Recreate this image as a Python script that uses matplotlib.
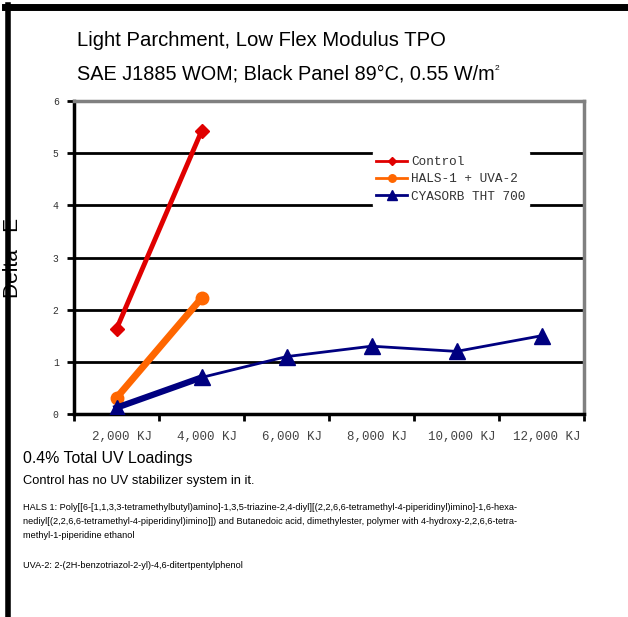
import matplotlib.pyplot as plt
from matplotlib.lines import Line2D

# data
categories = ["2,000 KJ", "4,000 KJ", "6,000 KJ", "8,000 KJ", "10,000 KJ", "12,000 KJ"]
control = [1.63, 5.42]
hals_uva = [0.31, 2.22]
cyasorb = [0.12, 0.70, 1.10, 1.30, 1.20, 1.50]

sans = ['Liberation Sans', 'DejaVu Sans']
mono = ['Liberation Mono', 'DejaVu Sans Mono']

fig = plt.figure(figsize=(6.28, 6.17), dpi=100)
W, H = 628, 617

# frame lines (top and left)
fig.add_artist(Line2D([5 / W, 1], [1 - 7 / H, 1 - 7 / H], color='black', lw=5, transform=fig.transFigure))
fig.add_artist(Line2D([8 / W, 8 / W], [0, 1 - 5 / H], color='black', lw=4, transform=fig.transFigure))

ax = fig.add_axes([74 / W, 1 - 414 / H, 510 / W, 313 / H])

x = list(range(len(categories)))
ax.plot(x[:2], control, color='#e00000', lw=3.5, marker='D', ms=7.5, label='Control', zorder=4)
ax.plot(x[:2], hals_uva, color='#ff6600', lw=5, marker='o', ms=9, label='HALS-1 + UVA-2', zorder=3)
ax.plot(x, cyasorb, color='#000080', lw=2, marker='^', ms=11, label='CYASORB THT 700', zorder=5)
ax.plot(x[:2], cyasorb[:2], color='#000080', lw=4.5, zorder=5)

ax.set_xlim(-0.5, 5.5)
ax.set_ylim(0, 6)
ax.set_yticks(range(7))
ax.set_yticklabels([str(v) for v in range(7)], family=mono, fontsize=7, color='#333333')
ax.set_xticks([i - 0.5 for i in range(7)])
ax.set_xticklabels([])
ax.set_xticks([i + 0.06 for i in x], minor=True)
ax.set_xticklabels(categories, minor=True, family=mono, fontsize=9, color='#444444')
ax.tick_params(axis='x', which='minor', length=0, pad=12)
ax.tick_params(axis='x', which='major', length=5, width=2, direction='out')
ax.tick_params(axis='y', length=5, width=2, direction='out', pad=6)

for y in range(1, 6):
    ax.axhline(y, color='black', lw=2, zorder=1)

ax.spines['left'].set_linewidth(2.5)
ax.spines['bottom'].set_linewidth(2.5)
ax.spines['top'].set_color('#808080')
ax.spines['top'].set_linewidth(2.5)
ax.spines['right'].set_color('#808080')
ax.spines['right'].set_linewidth(2.5)

ax.set_ylabel("Delta   E", fontsize=15, family=sans, labelpad=22)

leg = ax.legend(loc='upper left', bbox_to_anchor=(0.573, 0.856), frameon=True, framealpha=1,
                edgecolor='white', fancybox=False,
                prop={'family': mono, 'size': 9.2},
                handlelength=2.4, handletextpad=0.3, borderpad=0.3, labelspacing=0.4,
                markerscale=0.6)
leg.set_zorder(6)
for h in leg.get_lines():
    h.set_linewidth(2)
for t in leg.get_texts():
    t.set_color('#333333')

fig.text(77 / W, 1 - 41 / H, "Light Parchment, Low Flex Modulus TPO", fontsize=14.6,
         family=sans, va='center')
fig.text(77 / W, 1 - 74 / H, "SAE J1885 WOM; Black Panel 89°C, 0.55 W/m", fontsize=14.3,
         family=sans, va='center')
fig.text(495 / W, 1 - 68 / H, "2", fontsize=6, family=sans, va='center')

fig.text(23 / W, 1 - 458 / H, "0.4% Total UV Loadings", fontsize=11.4, family=sans, va='center')
fig.text(23 / W, 1 - 481 / H, "Control has no UV stabilizer system in it.", fontsize=9.3,
         family=sans, va='center')
hals_text = ("HALS 1: Poly[[6-[1,1,3,3-tetramethylbutyl)amino]-1,3,5-triazine-2,4-diyl][(2,2,6,6-tetramethyl-4-piperidinyl)imino]-1,6-hexa-\n"
             "nediyl[(2,2,6,6-tetramethyl-4-piperidinyl)imino]]) and Butanedoic acid, dimethylester, polymer with 4-hydroxy-2,2,6,6-tetra-\n"
             "methyl-1-piperidine ethanol")
fig.text(23 / W, 1 - 503 / H, hals_text, fontsize=6.6, family=sans, va='top', linespacing=1.75)
fig.text(23 / W, 1 - 566 / H, "UVA-2: 2-(2H-benzotriazol-2-yl)-4,6-ditertpentylphenol", fontsize=6.6,
         family=sans, va='center')

fig.savefig("out.png", dpi=100)
